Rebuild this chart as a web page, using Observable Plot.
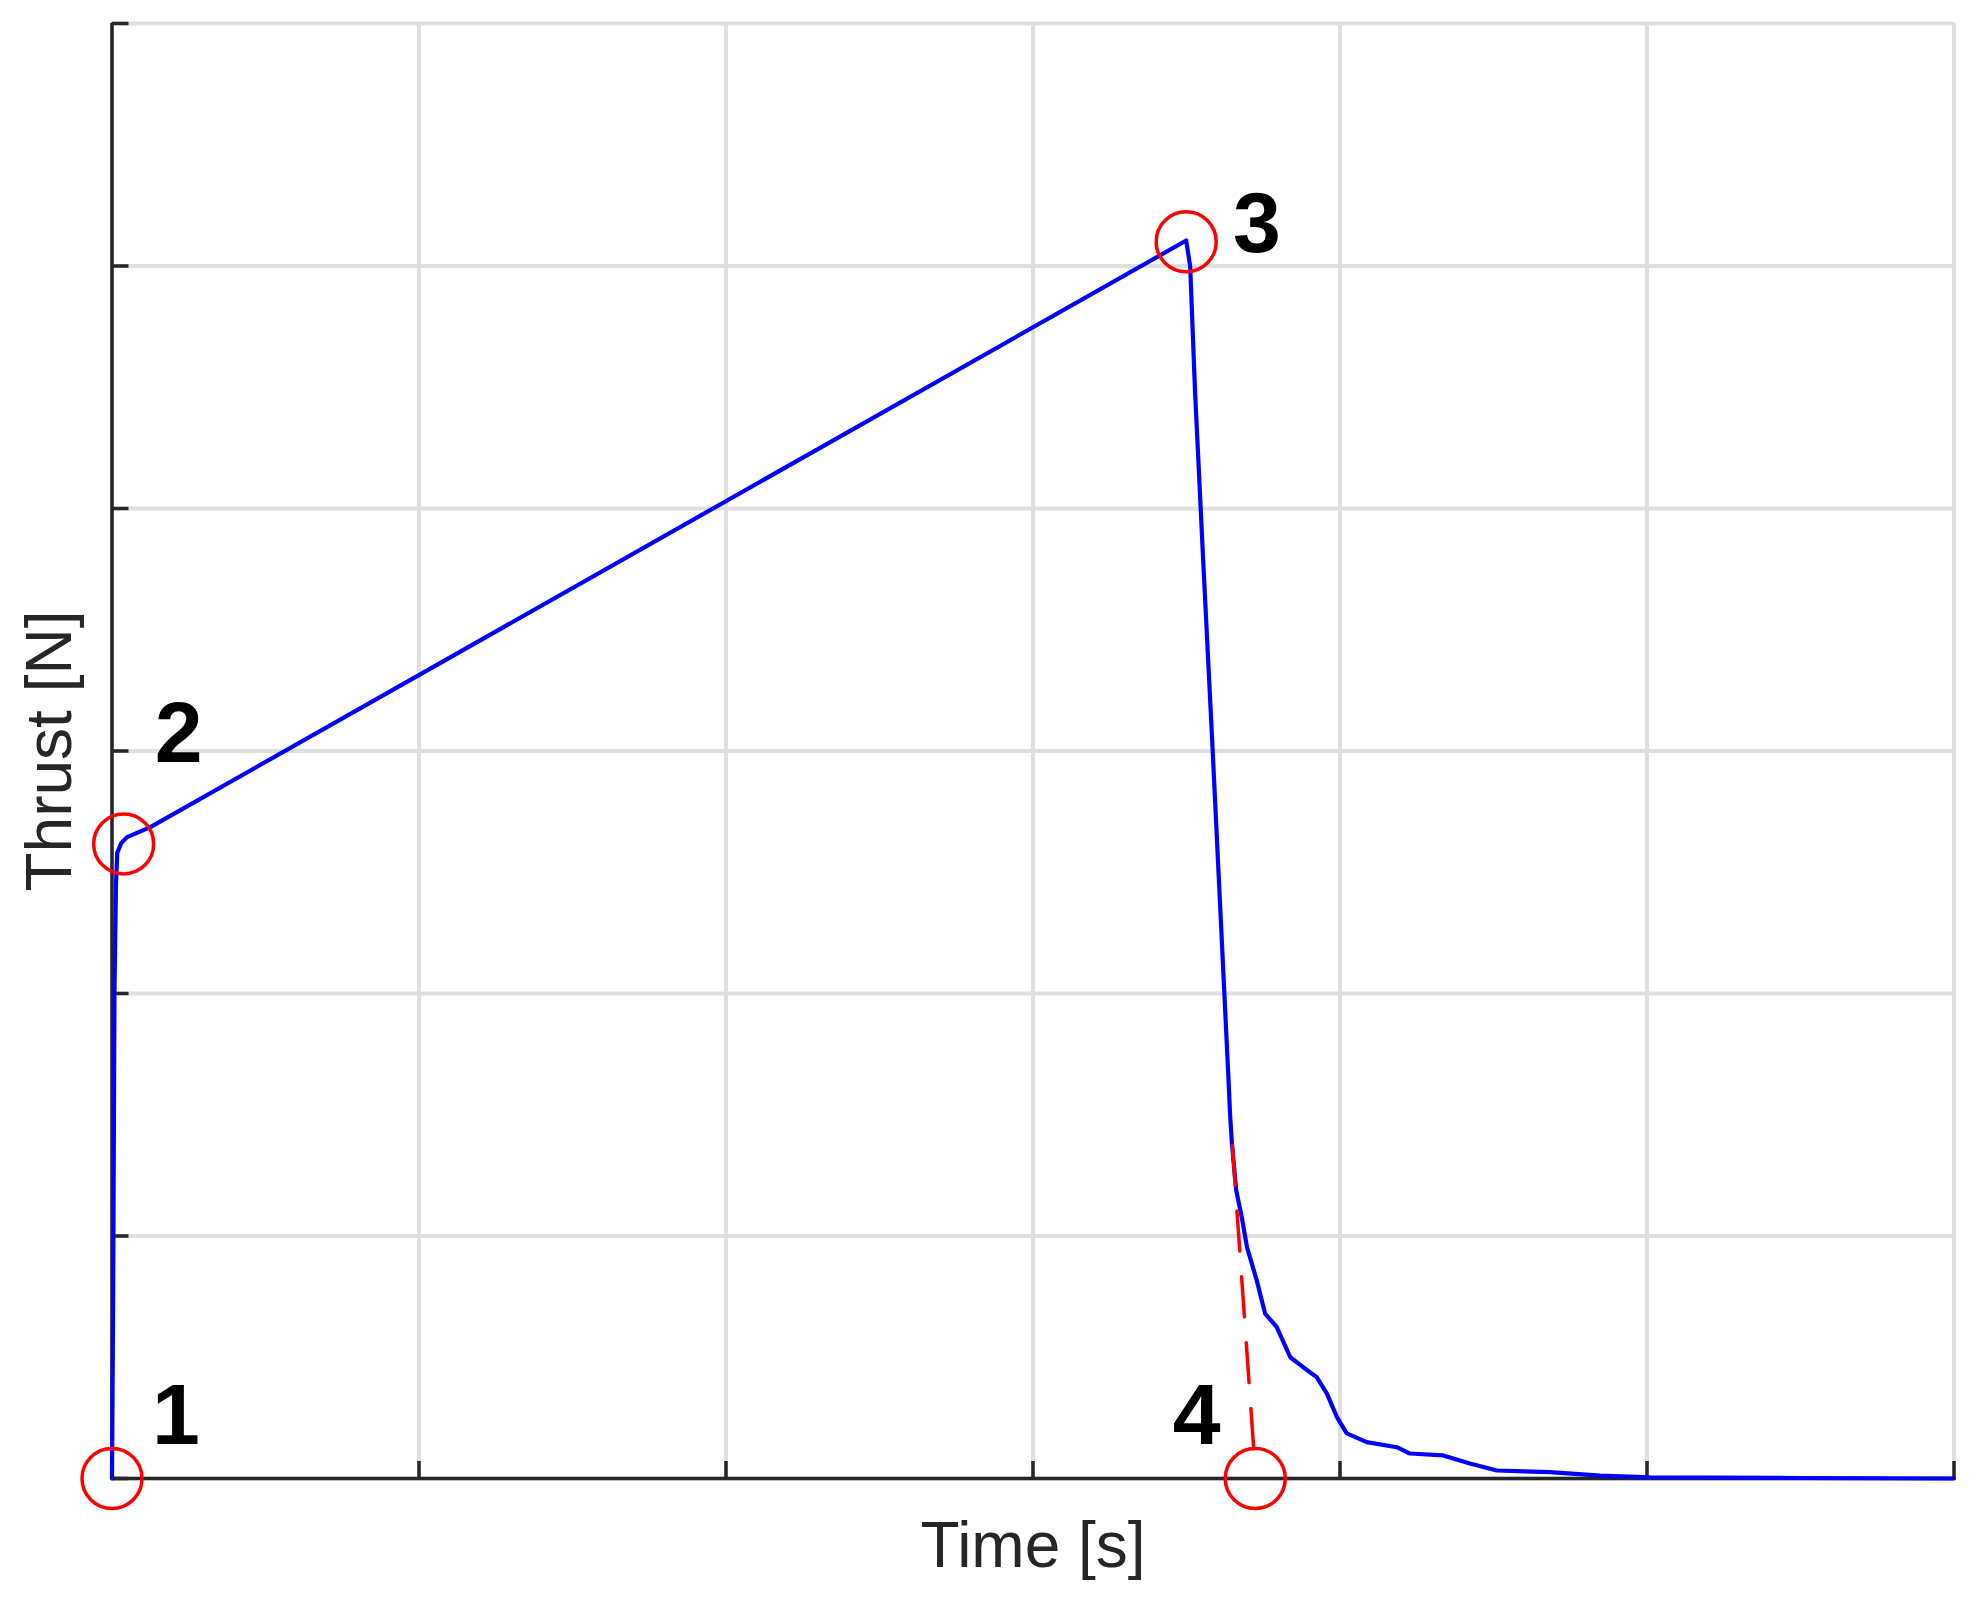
<!DOCTYPE html>
<html>
<head>
<meta charset="utf-8">
<script src="https://cdn.jsdelivr.net/npm/d3@7"></script>
<script src="https://cdn.jsdelivr.net/npm/@observablehq/plot@0.6"></script>
<style>
  html, body { margin: 0; padding: 0; background: #ffffff; }
  #chart svg { display: block; }
</style>
</head>
<body>
<div id="chart"></div>
<script>
// ---- Data (axes have no numeric labels) ----
const timeS   = [0, 0.004, 0.008, 0.013, 0.017, 0.030, 0.049, 0.125, 3.499, 3.512, 3.528, 3.555, 3.583, 3.610, 3.637, 3.642, 3.648, 3.662, 3.680, 3.697, 3.729, 3.756, 3.794, 3.838, 3.880, 3.924, 3.957, 3.990, 4.022, 4.087, 4.185, 4.228, 4.336, 4.423, 4.511, 4.684, 4.847, 5.010, 5.500, 6.000];
const thrustN = [0, 0.80, 2.00, 2.45, 2.58, 2.620, 2.645, 2.686, 5.105, 4.998, 4.478, 3.769, 3.060, 2.351, 1.641, 1.500, 1.381, 1.188, 1.078, 0.954, 0.816, 0.680, 0.624, 0.500, 0.459, 0.418, 0.351, 0.253, 0.186, 0.150, 0.129, 0.103, 0.095, 0.062, 0.033, 0.026, 0.012, 0.005, 0.002, 0];

// extrapolated burn-out line (red dashed), drawn from the bottom up
const extrapTime   = [3.719, 3.645];
const extrapThrust = [0.124, 1.450];

// marked points (red circles)
const pointTime   = [0, 0.038, 3.499, 3.724];
const pointThrust = [0, 2.617, 5.100, 0];

// point labels
const labelText   = ["1", "2", "3", "4"];
const labelTime   = [0.208, 0.217, 3.729, 3.533];
const labelThrust = [0.144, 2.954, 5.057, 0.143];

// grid ticks
const xTicks = [0, 1, 2, 3, 4, 5, 6];
const yTicks = [0, 1, 2, 3, 4, 5, 6];

const xLabel = "Time [s]";
const yLabel = "Thrust [N]";

// ---- Build tables ----
const series = timeS.map((t, i) => ({t, f: thrustN[i]}));
const extrap = extrapTime.map((t, i) => ({t, f: extrapThrust[i]}));
const points = pointTime.map((t, i) => ({t, f: pointThrust[i]}));
const labels = labelText.map((s, i) => ({s, t: labelTime[i], f: labelThrust[i]}));

const axisColor = "#262626";
const gridColor = "#dfdfdf";

const chart = Plot.plot({
  width: 1986,
  height: 1602,
  marginLeft: 111.5,
  marginRight: 32.5,
  marginTop: 23,
  marginBottom: 124,
  style: {background: "#ffffff", fontFamily: "'Liberation Sans', Arial, Helvetica, sans-serif"},
  x: {domain: [0, 6], axis: null},
  y: {domain: [0, 6], axis: null},
  marks: [
    // grid
    Plot.ruleX(xTicks, {x: d => d, stroke: gridColor, strokeWidth: 4}),
    Plot.ruleY(yTicks, {y: d => d, stroke: gridColor, strokeWidth: 4}),
    // axis lines
    Plot.ruleX([0], {x: d => d, stroke: axisColor, strokeWidth: 3.5}),
    Plot.ruleY([0], {y: d => d, stroke: axisColor, strokeWidth: 3.5}),
    // inward ticks
    Plot.ruleX(xTicks, {x: d => d, y1: 0, y2: 0, insetTop: -17, stroke: axisColor, strokeWidth: 3.5}),
    Plot.ruleY(yTicks, {y: d => d, x1: 0, x2: 0, insetRight: -17, stroke: axisColor, strokeWidth: 3.5}),
    // thrust curve
    Plot.line(series, {x: "t", y: "f", stroke: "#0000ff", strokeWidth: 4.2, curve: "linear"}),
    // extrapolation
    Plot.line(extrap, {x: "t", y: "f", stroke: "#ff0000", strokeWidth: 3.5, strokeDasharray: "40,26"}),
    // marked points
    Plot.dot(points, {x: "t", y: "f", r: 30, stroke: "#ff0000", strokeWidth: 3.5, fill: "none"}),
    // point labels
    Plot.text(labels, {x: "t", y: "f", text: "s", fontSize: 86, fontWeight: "bold", fill: "#000000", lineAnchor: "bottom", textAnchor: "middle"}),
    // axis titles
    Plot.text([xLabel], {text: d => d, frameAnchor: "bottom", dy: 88, lineAnchor: "bottom", textAnchor: "middle", fontSize: 64, fill: axisColor}),
    Plot.text([yLabel], {text: d => d, frameAnchor: "left", dx: -41, rotate: -90, lineAnchor: "bottom", textAnchor: "middle", fontSize: 64, fill: axisColor})
  ]
});

document.getElementById("chart").appendChild(chart);
</script>
</body>
</html>
